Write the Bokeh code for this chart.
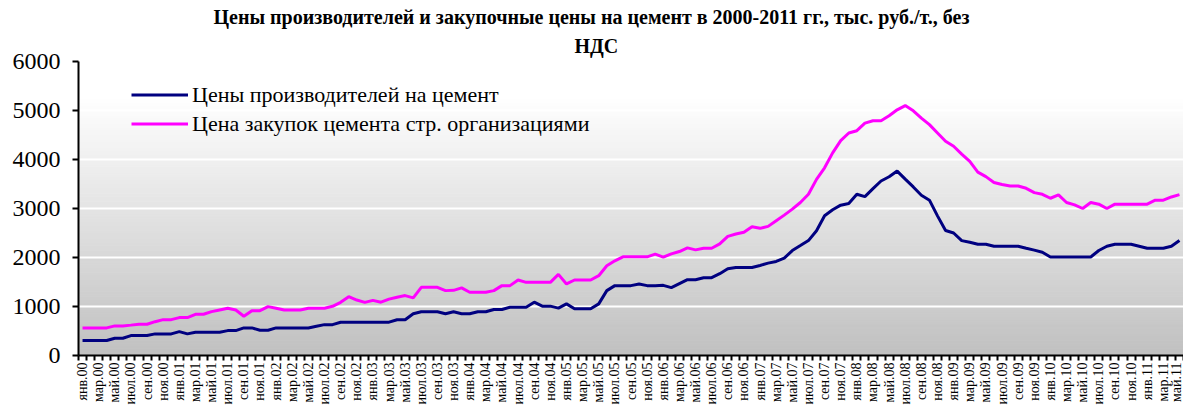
import math
import numpy as np
from bokeh.plotting import figure
from bokeh.models import Range1d, FixedTicker, Legend, LegendItem, Title, ColumnDataSource
from bokeh.embed import file_html
from bokeh.resources import INLINE

# ---------------- data ----------------
month_names = ["янв", "фев", "мар", "апр", "май", "июн", "июл", "авг", "сен", "окт", "ноя", "дек"]
years = ["00", "01", "02", "03", "04", "05", "06", "07", "08", "09", "10", "11"]
n_months_last_year = 5  # январь-май 2011

categories = [f"{m}.{y}" for y in years for m in month_names]
categories = categories[: 12 * (len(years) - 1) + n_months_last_year]

producer_prices = [
    305, 305, 305, 305, 352, 352, 407, 407, 407, 441, 441, 441,          # 2000
    488, 441, 475, 475, 475, 475, 508, 508, 563, 563, 515, 515,          # 2001
    563, 563, 563, 563, 563, 597, 630, 630, 678, 678, 678, 678,          # 2002
    680, 680, 680, 730, 730, 851, 892, 892, 892, 851, 892, 851,          # 2003
    851, 892, 892, 939, 939, 986, 986, 986, 1088, 1007, 1007, 966,       # 2004
    1054, 953, 953, 953, 1054, 1324, 1426, 1426, 1426, 1460, 1426, 1426, # 2005
    1432, 1385, 1466, 1547, 1547, 1588, 1588, 1669, 1770, 1797, 1797, 1797,  # 2006
    1838, 1885, 1919, 1986, 2142, 2243, 2345, 2547, 2851, 2973, 3068, 3101,  # 2007
    3291, 3243, 3405, 3561, 3649, 3764, 3600, 3440, 3270, 3170, 2850, 2550,  # 2008
    2500, 2345, 2311, 2270, 2270, 2230, 2230, 2230, 2230, 2189, 2150, 2108,  # 2009
    2010, 2010, 2010, 2010, 2010, 2010, 2142, 2230, 2270, 2270, 2270, 2230,  # 2010
    2189, 2189, 2189, 2230, 2345,                                            # 2011
]

purchase_prices = [
    563, 563, 563, 563, 604, 604, 620, 637, 637, 690, 732, 732,          # 2000
    773, 773, 841, 841, 895, 930, 963, 929, 800, 915, 915, 997,          # 2001
    963, 929, 929, 929, 963, 963, 963, 1004, 1085, 1200, 1132, 1085,     # 2002
    1125, 1088, 1150, 1190, 1223, 1176, 1392, 1392, 1392, 1324, 1330, 1380,  # 2003
    1291, 1291, 1291, 1324, 1426, 1426, 1541, 1493, 1493, 1493, 1493, 1656,  # 2004
    1460, 1541, 1541, 1541, 1629, 1831, 1933, 2014, 2014, 2014, 2014, 2068,  # 2005
    2007, 2074, 2122, 2196, 2155, 2189, 2189, 2277, 2432, 2480, 2514, 2628,  # 2006
    2595, 2635, 2750, 2865, 2987, 3122, 3291, 3595, 3831, 4135, 4385, 4541,  # 2007
    4588, 4743, 4791, 4791, 4892, 5014, 5101, 4993, 4845, 4712, 4542, 4373,  # 2008
    4270, 4110, 3960, 3743, 3650, 3530, 3490, 3459, 3459, 3412, 3324, 3290,  # 2009
    3209, 3277, 3122, 3074, 3000, 3122, 3088, 3000, 3088, 3088, 3088, 3088,  # 2010
    3088, 3169, 3169, 3236, 3284,                                            # 2011
]

series_names = ["Цены производителей на цемент", "Цена закупок цемента стр. организациями"]
title_line1 = "Цены производителей и закупочные цены на цемент в 2000-2011 гг., тыс. руб./т., без"
title_line2 = "НДС"
y_ticks = [0, 1000, 2000, 3000, 4000, 5000, 6000]

# ---------------- figure ----------------
N = len(categories)
x = list(range(N))
FONT = "Liberation Serif"

p = figure(
    width=1183, height=407,
    output_backend="svg", toolbar_location=None,
    x_range=Range1d(-0.5, N - 0.5), y_range=Range1d(y_ticks[0], y_ticks[-1]),
    min_border_left=78, min_border_right=0, min_border_top=61, min_border_bottom=50,
)
p.outline_line_color = None
p.background_fill_color = "white"
p.border_fill_color = "white"

# gradient background of the plot area (decoration)
edges = np.linspace(y_ticks[0], y_ticks[-1], 121)
mids = (edges[:-1] + edges[1:]) / 2
levels = [int(round(192 + 63 * min(1.0, m / 5300.0))) for m in mids]
cols = ["#%02x%02x%02x" % (l, l, l) for l in levels]
bg = ColumnDataSource(dict(bottom=edges[:-1], top=edges[1:], c=cols))
p.quad(left=-0.5, right=N - 0.5, bottom="bottom", top="top", fill_color="c",
       line_color="c", line_width=1, source=bg, level="image")

r1 = p.line(x, producer_prices, line_color="#000080", line_width=3)
r2 = p.line(x, purchase_prices, line_color="#ff00ff", line_width=3)

# grid
p.xgrid.visible = False
p.ygrid.grid_line_color = "white"
p.ygrid.grid_line_width = 2
p.ygrid.ticker = FixedTicker(ticks=y_ticks)

# y axis
p.yaxis.ticker = FixedTicker(ticks=y_ticks)
p.yaxis.axis_line_color = "black"
p.yaxis.axis_line_width = 2
p.yaxis.major_tick_out = 6
p.yaxis.major_tick_in = 0
p.yaxis.major_tick_line_width = 2
p.yaxis.minor_tick_out = 0
p.yaxis.minor_tick_in = 0
p.yaxis.major_label_standoff = 12
p.yaxis.major_label_text_font = FONT
p.yaxis.major_label_text_font_size = "24px"
p.yaxis.major_label_text_color = "black"

# x axis
major = list(range(0, N, 2))
p.xaxis.ticker = FixedTicker(ticks=major, minor_ticks=[i - 0.5 for i in range(N + 1)])
p.xaxis.major_label_overrides = {i: categories[i] for i in major}
p.xaxis.major_label_orientation = math.pi / 2
p.xaxis.axis_line_color = "black"
p.xaxis.axis_line_width = 2
p.xaxis.major_tick_out = 0
p.xaxis.major_tick_in = 0
p.xaxis.minor_tick_out = 5
p.xaxis.minor_tick_in = 0
p.xaxis.minor_tick_line_color = "black"
p.xaxis.minor_tick_line_width = 2
p.xaxis.major_label_standoff = 2
p.xaxis.major_label_text_font = FONT
p.xaxis.major_label_text_font_size = "14px"
p.xaxis.major_label_text_color = "black"

# titles
t2 = Title(text=title_line2, align="left", text_font=FONT, text_font_style="bold",
           text_font_size="20px", text_color="black", standoff=9, offset=496)
t1 = Title(text=title_line1, align="left", text_font=FONT, text_font_style="bold",
           text_font_size="20px", text_color="black", standoff=1, offset=135)
p.add_layout(t2, "above")
p.add_layout(t1, "above")

# legend
legend = Legend(
    items=[LegendItem(label=series_names[0], renderers=[r1]),
           LegendItem(label=series_names[1], renderers=[r2])],
    location=(53, 217),
    label_text_font=FONT, label_text_font_size="22px", label_text_color="black",
    glyph_width=57, glyph_height=29, label_height=29, label_standoff=4,
    spacing=0, padding=0, margin=0,
    background_fill_alpha=0, border_line_alpha=0,
)
p.add_layout(legend)

open("out.html", "w").write(file_html(p, INLINE))
